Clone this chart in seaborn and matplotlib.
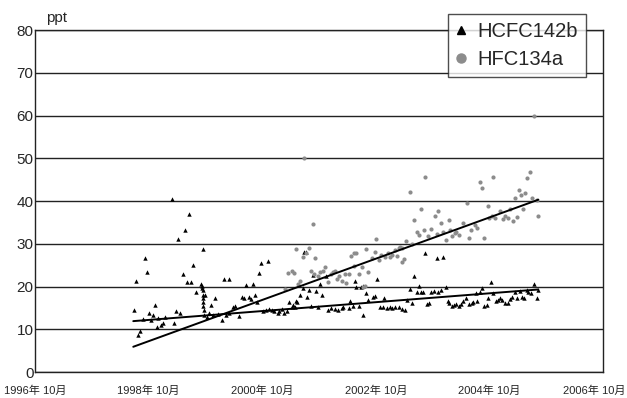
import matplotlib
matplotlib.use("Agg")
import matplotlib.pyplot as plt
import matplotlib.transforms as mtransforms
import seaborn as sns
from matplotlib.lines import Line2D

# ---- data ----
hcfc_year = [1998.49, 1998.53, 1998.57, 1998.60, 1998.65, 1998.68, 1998.72, 1998.76, 1998.79, 1998.82,
             1998.86, 1998.89, 1998.92, 1998.96, 1999.01, 1999.04, 1999.16, 1999.20, 1999.24, 1999.27,
             1999.30, 1999.35, 1999.39, 1999.43, 1999.47, 1999.50, 1999.54, 1999.58, 1999.68, 1999.69,
             1999.69, 1999.70, 1999.70, 1999.70, 1999.70, 1999.71, 1999.71, 1999.72, 1999.72, 1999.74,
             1999.77, 1999.81, 1999.85, 1999.89, 1999.92, 1999.97, 2000.04, 2000.07, 2000.11, 2000.16,
             2000.17, 2000.23, 2000.27, 2000.34, 2000.39, 2000.43, 2000.46, 2000.51, 2000.55, 2000.58,
             2000.62, 2000.65, 2000.69, 2000.73, 2000.76, 2000.82, 2000.86, 2000.87, 2000.92, 2000.95,
             2001.02, 2001.05, 2001.09, 2001.14, 2001.18, 2001.23, 2001.27, 2001.29, 2001.33, 2001.35,
             2001.36, 2001.42, 2001.46, 2001.49, 2001.52, 2001.53, 2001.57, 2001.61, 2001.65, 2001.69,
             2001.73, 2001.77, 2001.80, 2001.87, 2001.90, 2001.97, 2002.03, 2002.09, 2002.15, 2002.18,
             2002.27, 2002.30, 2002.34, 2002.38, 2002.41, 2002.46, 2002.49, 2002.52, 2002.53, 2002.57,
             2002.62, 2002.70, 2002.74, 2002.77, 2002.82, 2002.88, 2002.90, 2002.94, 2003.00, 2003.04,
             2003.09, 2003.15, 2003.22, 2003.26, 2003.30, 2003.35, 2003.39, 2003.43, 2003.47, 2003.51,
             2003.55, 2003.58, 2003.62, 2003.66, 2003.69, 2003.73, 2003.78, 2003.82, 2003.85, 2003.89,
             2003.93, 2003.99, 2004.02, 2004.04, 2004.09, 2004.13, 2004.17, 2004.21, 2004.25, 2004.29,
             2004.34, 2004.39, 2004.44, 2004.47, 2004.51, 2004.54, 2004.58, 2004.62, 2004.66, 2004.70,
             2004.73, 2004.77, 2004.82, 2004.86, 2004.91, 2004.94, 2004.98, 2005.02, 2005.07, 2005.11,
             2005.15, 2005.20, 2005.24, 2005.28, 2005.32, 2005.36, 2005.41, 2005.43, 2005.49, 2005.54,
             2005.58, 2005.61]
hcfc_ppt = [14.6, 21.3, 8.6, 9.7, 12.3, 26.7, 23.5, 13.9, 12.2, 13.3,
            15.7, 10.6, 12.7, 10.9, 11.4, 12.9, 40.5, 11.5, 14.3, 31.0,
            13.9, 23.0, 33.2, 21.1, 37.0, 21.1, 25.0, 18.7, 20.6, 20.2,
            19.7, 19.2, 28.7, 18.0, 17.2, 16.3, 15.4, 14.5, 13.3, 18.0,
            12.8, 13.9, 15.6, 13.3, 17.3, 13.6, 12.2, 21.8, 13.3, 21.8,
            13.9, 15.1, 15.4, 13.1, 17.6, 17.2, 20.3, 17.5, 17.1, 20.6,
            18.0, 16.4, 23.1, 25.4, 14.3, 14.5, 26.0, 14.7, 14.5, 14.3,
            13.7, 14.3, 14.7, 13.9, 14.3, 16.4, 15.3, 15.7, 15.2, 16.7,
            16.4, 18.0, 19.6, 28.0, 28.1, 17.6, 19.2, 15.5, 22.8, 19.0,
            15.3, 20.7, 18.1, 22.5, 14.5, 14.9, 14.7, 14.5, 14.9, 15.1,
            14.9, 16.6, 15.4, 21.3, 19.8, 15.4, 19.8, 20.1, 13.3, 18.4,
            16.8, 17.6, 17.8, 21.8, 15.3, 15.3, 17.2, 14.9, 15.2, 15.0,
            15.3, 15.3, 14.7, 14.5, 16.8, 19.3, 16.2, 22.5, 18.8, 20.2,
            18.6, 18.6, 27.9, 15.9, 16.2, 18.8, 18.9, 26.6, 18.6, 19.2,
            27.0, 20.0, 16.7, 16.1, 15.5, 15.7, 15.9, 15.5, 15.8, 16.7,
            17.2, 15.9, 16.1, 16.4, 18.4, 16.7, 18.6, 19.6, 15.4, 15.7,
            17.2, 21.0, 18.4, 16.6, 16.8, 17.2, 16.8, 16.2, 16.2, 17.1,
            17.5, 18.8, 17.4, 18.9, 17.6, 17.2, 19.2, 18.8, 18.4, 20.7,
            17.2, 19.2]

hfc_year = [2001.16, 2001.20, 2001.27, 2001.31, 2001.35, 2001.38, 2001.42, 2001.46, 2001.49, 2001.52,
            2001.57, 2001.61, 2001.65, 2001.67, 2001.68, 2001.73, 2001.77, 2001.82, 2001.86, 2001.90,
            2001.96, 2002.00, 2002.03, 2002.06, 2002.11, 2002.16, 2002.20, 2002.22, 2002.27, 2002.31,
            2002.37, 2002.37, 2002.41, 2002.45, 2002.50, 2002.52, 2002.56, 2002.57, 2002.61, 2002.68,
            2002.74, 2002.76, 2002.81, 2002.85, 2002.91, 2002.96, 2003.00, 2003.03, 2003.09, 2003.12,
            2003.15, 2003.17, 2003.21, 2003.22, 2003.25, 2003.29, 2003.35, 2003.39, 2003.43, 2003.47,
            2003.51, 2003.55, 2003.59, 2003.62, 2003.67, 2003.73, 2003.79, 2003.82, 2003.85, 2003.89,
            2003.93, 2003.98, 2004.03, 2004.06, 2004.10, 2004.14, 2004.17, 2004.21, 2004.29, 2004.35,
            2004.39, 2004.43, 2004.50, 2004.54, 2004.58, 2004.62, 2004.66, 2004.73, 2004.75, 2004.79,
            2004.81, 2004.85, 2004.94, 2004.99, 2005.02, 2005.08, 2005.11, 2005.16, 2005.20, 2005.24,
            2005.27, 2005.31, 2005.35, 2005.38, 2005.42, 2005.46, 2005.50, 2005.54, 2005.58, 2005.61]
hfc_ppt = [19.5, 23.1, 23.7, 23.1, 28.8, 20.6, 21.4, 26.8, 50.1, 27.9,
           28.9, 23.7, 34.7, 22.9, 26.7, 22.5, 23.4, 23.6, 24.5, 21.1,
           22.9, 23.5, 23.6, 21.7, 22.5, 21.4, 22.9, 20.9, 22.9, 27.1,
           27.8, 24.7, 27.9, 22.9, 24.5, 20.0, 20.1, 28.7, 23.3, 26.6,
           28.1, 31.1, 26.2, 27.4, 27.0, 27.9, 26.8, 27.4, 28.5, 27.1,
           28.9, 29.3, 29.1, 25.8, 26.4, 30.6, 42.2, 29.9, 35.6, 32.8,
           32.0, 38.1, 33.3, 45.5, 31.8, 33.4, 36.5, 32.3, 37.6, 34.8,
           32.8, 30.9, 35.6, 33.1, 31.7, 32.6, 32.7, 32.0, 34.9, 39.6,
           31.3, 33.2, 34.4, 33.6, 44.5, 43.0, 31.4, 38.8, 36.1, 36.6,
           45.6, 36.1, 37.7, 35.8, 36.6, 36.0, 38.2, 35.4, 40.6, 36.3,
           42.6, 41.4, 38.2, 41.8, 45.4, 46.9, 40.8, 60.0, 40.2, 36.5]

trend_year = [1998.48, 2005.61]
hcfc_trend = [11.9, 19.3]
hfc_trend = [5.9, 40.3]

series_names = ["HCFC142b", "HFC134a"]
xtick_years = [1996.75, 1998.75, 2000.75, 2002.75, 2004.75, 2006.75]
xtick_labels = ["1996年 10月", "1998年 10月", "2000年 10月", "2002年 10月", "2004年 10月", "2006年 10月"]
ytick_values = [0, 10, 20, 30, 40, 50, 60, 70, 80]
unit_label = "ppt"

# ---- style ----
sns.set_style("white")
plt.rcParams['font.family'] = ['Liberation Sans', 'Noto Sans CJK JP', 'DejaVu Sans']

W, H = 627, 398
fig = plt.figure(figsize=(W / 100, H / 100), dpi=100)
ax = fig.add_axes([35 / W, 1 - 372 / H, 568 / W, 342 / H])

grey = '#8c8c8c'
sns.scatterplot(x=hcfc_year, y=hcfc_ppt, marker='^', color='black', s=10,
                linewidth=0, ax=ax, legend=False, zorder=3)
sns.scatterplot(x=hfc_year, y=hfc_ppt, marker='o', color=grey, s=9,
                linewidth=0, ax=ax, legend=False, zorder=3)
sns.lineplot(x=trend_year, y=hcfc_trend, color='black', lw=1.4, ax=ax, zorder=4)
sns.lineplot(x=trend_year, y=hfc_trend, color='black', lw=1.4, ax=ax, zorder=4)

ax.set_xlim(xtick_years[0], xtick_years[-1])
ax.set_ylim(ytick_values[0], ytick_values[-1])
ax.set_yticks(ytick_values)
ax.set_xticks(xtick_years, labels=xtick_labels)
ax.yaxis.grid(True, color='#222222', lw=1.0)
ax.xaxis.grid(False)
ax.set_axisbelow(True)
ax.tick_params(axis='x', length=0, pad=10, labelsize=8)
ax.tick_params(axis='y', length=0, pad=1, labelsize=11)
ax.set_xlabel('')
ax.set_ylabel('')
for sp in ax.spines.values():
    sp.set_visible(True)
    sp.set_color('#222222')
    sp.set_linewidth(1.0)

# shift the last x label slightly left so it stays inside the figure
last = ax.get_xticklabels()[-1]
last.set_transform(last.get_transform() +
                   mtransforms.ScaledTranslation(-9 / 100, 0, fig.dpi_scale_trans))

fig.text(46 / W, 1 - 22 / H, unit_label, fontsize=11, ha='left', va='baseline')

handles = [Line2D([], [], marker='^', color='black', ls='', markersize=6),
           Line2D([], [], marker='o', color=grey, ls='', markersize=6.5)]
leg = ax.legend(handles, series_names, loc='upper left',
                bbox_to_anchor=(448 / W, 1 - 14 / H), bbox_transform=fig.transFigure,
                frameon=True, fancybox=False, edgecolor='#222222', fontsize=14.5,
                handlelength=0.5, handletextpad=0.55, borderpad=0.4, labelspacing=0.45,
                borderaxespad=0)
leg.get_frame().set_linewidth(1.0)
leg.get_frame().set_facecolor('white')
leg.set_zorder(10)

fig.savefig('out.png', dpi=100)
